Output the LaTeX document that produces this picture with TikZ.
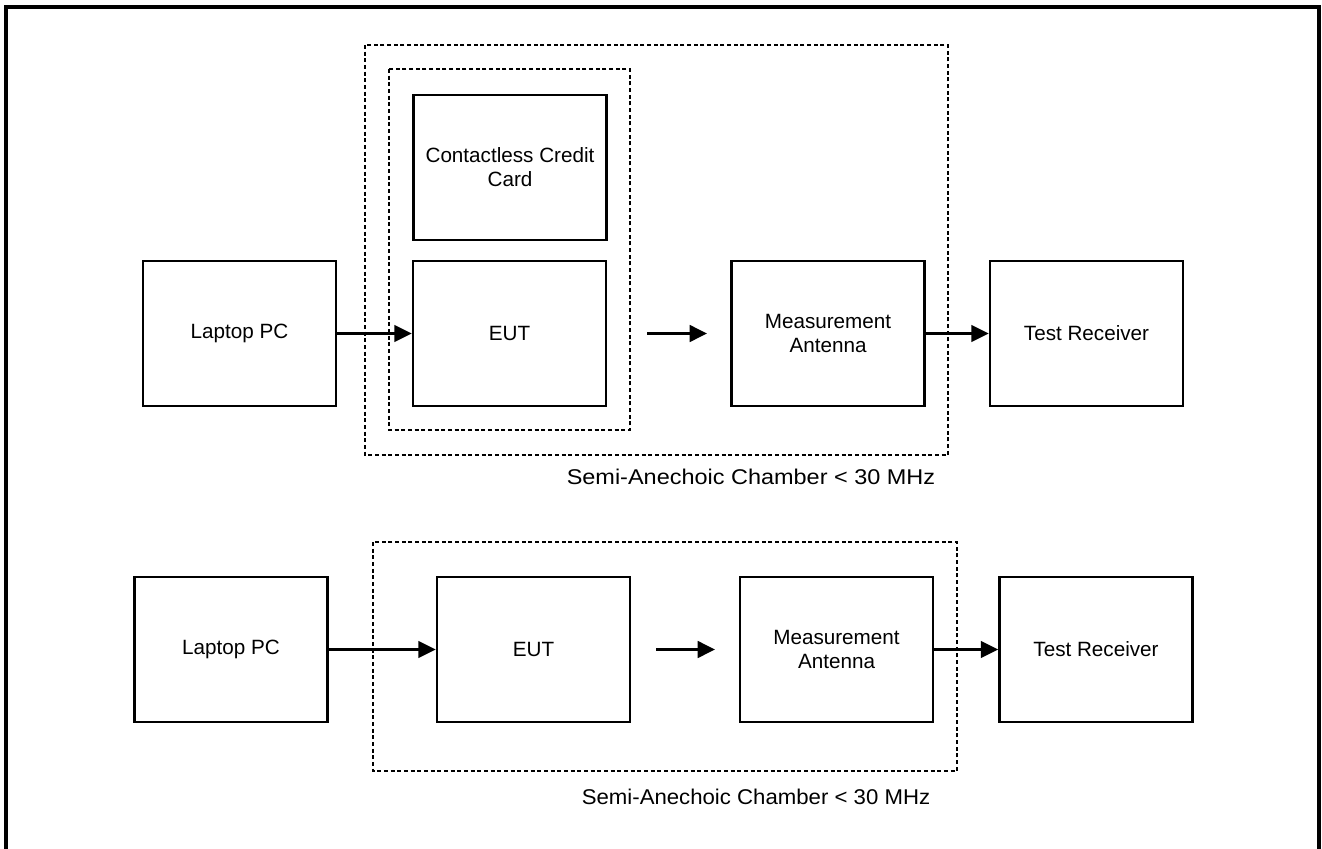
\documentclass[tikz,border=0pt]{standalone}
\usepackage{fontspec}
\setmainfont{Liberation Sans}
\usetikzlibrary{arrows.meta}
\newlength{\pxu}
\setlength{\pxu}{0.75pt}
\tikzset{
  blk/.style={draw, line width=2pt, minimum width=193\pxu, minimum height=145\pxu, align=center, inner sep=0pt, font=\fontsize{15.5pt}{18pt}\selectfont},
  chamber/.style={draw, line width=2pt, dash pattern=on 3pt off 2pt},
  conn/.style={line width=1.9pt, -{Triangle[length=13pt,width=12.5pt]}},
  frameline/.style={line width=3.2pt},
  lbl/.style={font=\fontsize{16pt}{19pt}\selectfont, inner sep=0pt}
}
\begin{document}
\begin{tikzpicture}[x=0.75pt,y=-0.75pt]
\useasboundingbox (0,0) rectangle (1322,849);
% outer frame
\draw[frameline] (6,849) -- (6,7) -- (1319,7) -- (1319,849);

% ---- top setup ----
\draw[chamber] (365,45) rectangle (948,455);
\draw[chamber] (389,69) rectangle (630,430);
\node[blk] (card) at (510,167.5) {Contactless Credit\\Card};
\node[blk] (laptopA) at (239.5,333.5) {Laptop PC};
\node[blk] (eutA) at (509.5,333.5) {EUT};
\node[blk] (antA) at (828,333.5) {Measurement\\Antenna};
\node[blk] (rxA) at (1086.5,333.5) {Test Receiver};
\coordinate (fa1) at (647,333.5);
\coordinate (fa2) at (707,333.5);
\draw[conn] (laptopA.east) -- (eutA.west);
\draw[conn] (fa1) -- (fa2);
\draw[conn] (antA.east) -- (rxA.west);
\node[lbl] (labA) at (751,477) {\scalebox{1.1}[1]{Semi-Anechoic Chamber < 30 MHz}};

% ---- bottom setup ----
\draw[chamber] (373,542) rectangle (957,771);
\node[blk] (laptopB) at (231,649.5) {Laptop PC};
\node[blk] (eutB) at (533.5,649.5) {EUT};
\node[blk] (antB) at (836.5,649.5) {Measurement\\Antenna};
\node[blk] (rxB) at (1096,649.5) {Test Receiver};
\coordinate (fb1) at (656,649.5);
\coordinate (fb2) at (715,649.5);
\draw[conn] (laptopB.east) -- (eutB.west);
\draw[conn] (fb1) -- (fb2);
\draw[conn] (antB.east) -- (rxB.west);
\node[lbl] (labB) at (756,797) {\scalebox{1.04}[1]{Semi-Anechoic Chamber < 30 MHz}};
\end{tikzpicture}
\end{document}
